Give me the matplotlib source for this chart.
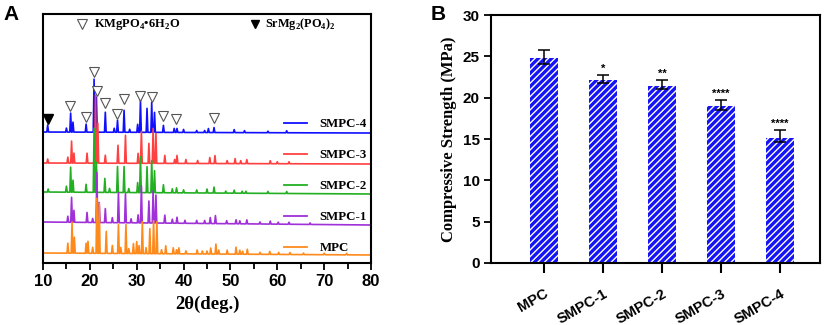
import numpy as np
import matplotlib.pyplot as plt

plt.rcParams['mathtext.fontset'] = 'custom'
plt.rcParams['mathtext.rm'] = 'Liberation Serif:bold'
plt.rcParams['hatch.linewidth'] = 1.0

SANS = 'Liberation Sans'
SERIF = 'Liberation Serif'

# ---- panel A: XRD patterns (offset, arbitrary units) ----
xrd_names = ['SMPC-4', 'SMPC-3', 'SMPC-2', 'SMPC-1', 'MPC']
xrd_colors = ['#1010ff', '#ff4040', '#22b022', '#a030d8', '#ff8a1c']
base_left = [131, 100, 71, 41, 10]
base_right = [130, 99, 69, 38, 8]

peaks_smpc4 = [(11.0, 7), (15.0, 4), (15.9, 19), (16.4, 10), (19.2, 8), (20.9, 53), (21.4, 35),
               (23.3, 20), (25.2, 4), (25.9, 12), (27.3, 22), (28.5, 3), (30.2, 8), (30.8, 32),
               (32.2, 24), (33.2, 30), (33.8, 20), (35.7, 7), (38.0, 4), (38.6, 4), (40.0, 3),
               (42.8, 2), (44.5, 2), (45.3, 4), (46.5, 5), (50.8, 3), (53.0, 2), (58.0, 1.5), (62.0, 2)]
peaks_smpc3 = [(11.0, 4), (15.3, 6), (16.1, 22), (16.6, 10), (19.4, 10), (21.2, 68), (21.7, 40),
               (23.3, 8), (26.0, 18), (27.6, 28), (30.3, 10), (31.0, 32), (32.6, 20), (33.5, 35),
               (34.1, 30), (36.0, 8), (38.1, 4), (38.6, 8), (40.5, 4), (43.0, 3), (45.6, 6), (46.7, 8),
               (49.3, 3), (51.0, 5), (52.2, 3), (53.5, 4), (58.5, 3), (60.0, 2), (62.5, 2)]
peaks_smpc2 = [(11.1, 3), (15.0, 6), (15.9, 25), (16.4, 12), (19.2, 8), (20.9, 64), (21.4, 30),
               (23.2, 14), (24.2, 4), (25.9, 26), (27.3, 26), (28.3, 4), (30.2, 10), (30.8, 36),
               (32.2, 26), (33.2, 32), (33.8, 22), (35.7, 8), (37.6, 4), (38.5, 5), (40.0, 3),
               (42.8, 3), (45.0, 4), (46.5, 6), (49.0, 2), (50.8, 3), (52.5, 2), (53.3, 2), (58.0, 2), (62.0, 2)]
peaks_smpc1 = [(15.3, 6), (16.1, 25), (16.6, 12), (19.4, 10), (20.6, 4), (21.5, 50), (22.0, 20),
               (23.3, 14), (24.8, 5), (26.1, 30), (27.6, 29), (28.8, 4), (30.3, 8), (31.0, 37),
               (32.6, 22), (33.5, 32), (34.1, 28), (36.0, 8), (37.6, 4), (38.6, 6), (40.3, 3),
               (42.8, 3), (44.5, 3), (45.7, 6), (46.8, 8), (49.2, 3), (51.2, 4), (52.0, 3), (53.5, 4),
               (56.3, 2), (58.5, 3), (60.2, 2), (62.5, 2), (67.0, 1.5)]
peaks_mpc = [(15.3, 10), (16.2, 31), (16.7, 16), (19.2, 10), (19.6, 12), (20.6, 6), (21.5, 55),
             (22.0, 50), (23.5, 22), (24.8, 8), (26.1, 29), (26.6, 6), (27.7, 29), (28.3, 5),
             (29.3, 10), (30.0, 12), (30.5, 8), (31.2, 32), (32.0, 6), (32.8, 25), (33.6, 33),
             (34.3, 32), (35.3, 4), (36.2, 8), (37.8, 6), (38.5, 4), (39.0, 6), (40.5, 3), (42.9, 4),
             (44.0, 3), (45.0, 3), (45.8, 6), (46.9, 10), (47.5, 4), (49.3, 4), (51.2, 7), (52.0, 4),
             (52.6, 3), (53.6, 5), (56.3, 2), (58.4, 3), (60.3, 2), (62.7, 2), (65.6, 1.5),
             (70.0, 1.5), (74.8, 1.5)]
xrd_peaks = [peaks_smpc4, peaks_smpc3, peaks_smpc2, peaks_smpc1, peaks_mpc]

# phase markers (2theta, height)
kmg_pos = [15.8, 19.2, 20.9, 21.5, 23.3, 25.8, 27.2, 30.6, 33.2, 35.7, 38.4, 46.6]
kmg_y = [157, 146, 191, 172, 160, 149, 164, 167, 166, 147, 144, 145]
srmg_pos = [11.0]
srmg_y = [144]

# ---- panel B: compressive strength ----
groups = ['MPC', 'SMPC-1', 'SMPC-2', 'SMPC-3', 'SMPC-4']
strength = [24.8, 22.1, 21.45, 19.0, 15.15]
err_low = [0.7, 0.3, 0.35, 0.55, 0.55]
err_high = [1.0, 0.65, 0.65, 0.75, 0.95]
stars = ['', '*', '**', '****', '****']


def trace(peaks, b0, b1, w=0.18):
    xs, ys = [10.0], [b0]
    for p, h in sorted(peaks):
        b = np.interp(p, [10, 80], [b0, b1])
        xs += [p - w, p, p + w]
        ys += [b, b + h, b]
    xs.append(80.0)
    ys.append(b1)
    return xs, ys


fig = plt.figure(figsize=(8.3, 3.25), dpi=100)
axA = fig.add_axes([0.0518, 0.1908, 0.3952, 0.766])
axB = fig.add_axes([0.5916, 0.1908, 0.3964, 0.763])

for name, col, pk, b0, b1 in zip(xrd_names, xrd_colors, xrd_peaks, base_left, base_right):
    xs, ys = trace(pk, b0, b1)
    axA.plot(xs, ys, color=col, lw=1.2, label=name)

axA.plot(kmg_pos, kmg_y, 'v', ms=7, mfc='white', mec='#555555', mew=0.8, ls='none')
axA.plot(srmg_pos, srmg_y, 'v', ms=7, mfc='black', mec='black', ls='none')

# phase key at top
axA.plot([0.119], [0.96], 'v', ms=7, mfc='white', mec='#555555', mew=0.8, transform=axA.transAxes)
axA.text(0.155, 0.958, r'KMgPO$_4$•6H$_2$O', transform=axA.transAxes, va='center', ha='left',
         family=SERIF, weight='bold', fontsize=9)
axA.plot([0.646], [0.96], 'v', ms=6, mfc='black', mec='black', transform=axA.transAxes)
axA.text(0.677, 0.958, r'SrMg$_2$(PO$_4$)$_2$', transform=axA.transAxes, va='center', ha='left',
         family=SERIF, weight='bold', fontsize=8.8)

leg = axA.legend(loc='upper left', bbox_to_anchor=(0.715, 0.607), frameon=False, borderpad=0,
                 handlelength=1.75, handletextpad=1.0, labelspacing=1.47,
                 prop={'family': SERIF, 'weight': 'bold', 'size': 9.3})
for ln in leg.get_lines():
    ln.set_linewidth(1.3)

axA.set_xlim(10, 80)
axA.set_ylim(0, 249)
axA.set_xticks(np.arange(10, 81, 10))
axA.set_xticks(np.arange(15, 80, 10), minor=True)
axA.set_yticks([])
axA.tick_params(axis='x', which='major', direction='out', length=5, width=1.3, pad=3)
axA.tick_params(axis='x', which='minor', direction='out', length=4, width=1.3)
for lab in axA.get_xticklabels():
    lab.set_family(SANS)
    lab.set_weight('bold')
    lab.set_fontsize(12)
for sp in axA.spines.values():
    sp.set_linewidth(1.5)
axA.set_xlabel('2θ(deg.)', family=SERIF, weight='bold', fontsize=13.5, labelpad=5)

# panel B
xpos = np.arange(len(groups))
axB.bar(xpos, strength, width=0.48, color='#1414f5', edgecolor='white', linewidth=0,
        hatch='/////', zorder=2)
axB.errorbar(xpos, strength, yerr=[err_low, err_high], fmt='none', ecolor='black',
             elinewidth=1.1, capsize=4.5, capthick=1.1, zorder=3)
for x, v, e, s in zip(xpos, strength, err_high, stars):
    if s:
        axB.text(x, v + e + 0.75, s, ha='center', va='center', family=SANS, weight='bold', fontsize=8)

axB.set_xlim(-0.9, 4.68)
axB.set_ylim(0, 30)
axB.set_yticks(np.arange(0, 31, 5))
axB.set_xticks(xpos)
axB.set_xticklabels(groups, rotation=30, ha='right', rotation_mode='anchor')
axB.tick_params(axis='y', direction='out', length=5, width=1.3, pad=3)
axB.tick_params(axis='x', direction='out', length=7, width=1.5, pad=10)
for lab in axB.get_yticklabels():
    lab.set_family(SANS)
    lab.set_weight('bold')
    lab.set_fontsize(11)
for lab in axB.get_xticklabels():
    lab.set_family(SANS)
    lab.set_weight('bold')
    lab.set_fontsize(10.5)
for sp in axB.spines.values():
    sp.set_linewidth(1.5)
axB.set_ylabel('Compressive Strength (MPa)', family=SERIF, weight='bold', fontsize=12, labelpad=4)

fig.text(0.004, 0.985, 'A', family=SANS, weight='bold', fontsize=15, va='top', ha='left')
fig.text(0.519, 0.985, 'B', family=SANS, weight='bold', fontsize=15, va='top', ha='left')

fig.savefig('out.png', dpi=100)
